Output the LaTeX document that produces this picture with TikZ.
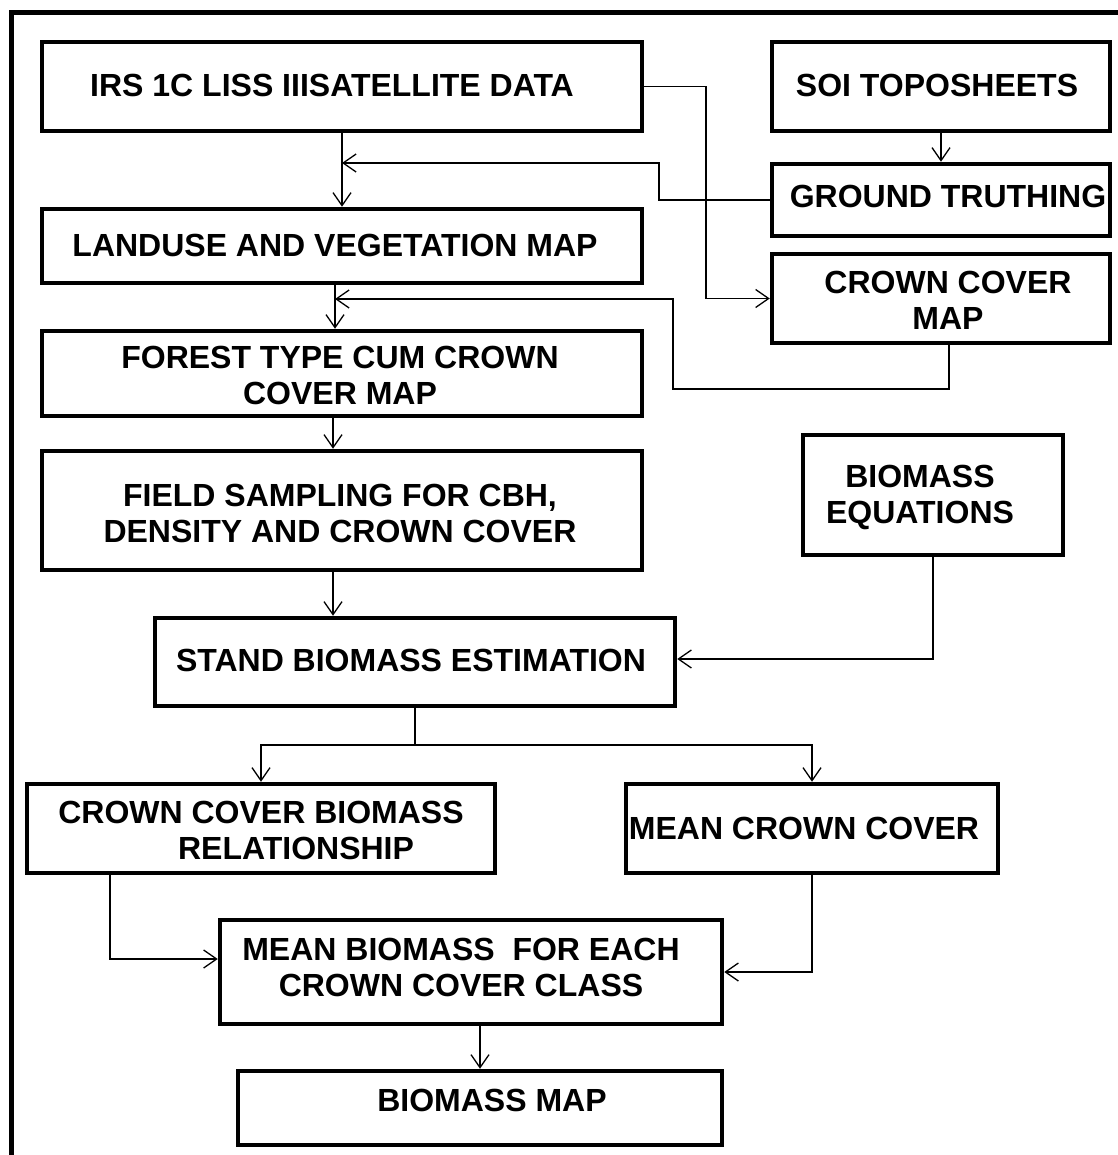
\documentclass[tikz,border=0pt]{standalone}
\usepackage{fontspec}
\setmainfont{Liberation Sans}
\usetikzlibrary{arrows.meta,fit}
\begin{document}
\begin{tikzpicture}[x=1pt,y=-1pt,
  box/.style={draw,line width=4.5pt,inner sep=0pt,rectangle},
  txt/.style={font=\bfseries\fontsize{32}{36}\selectfont,inner sep=0pt,align=center},
  conn/.style={line width=1.3pt,-{Straight Barb[length=13pt,width=18pt,line width=1.3pt]}},
  plain/.style={line width=1.3pt}]
\useasboundingbox (0,0) rectangle (1117,1155);
% outer frame
\draw[line width=5pt] (11,1165) -- (11,12.5) -- (1125,12.5);
% boxes
\node[box,fit={(42,42)(642,131)}] (irs) {};
\node[box,fit={(772,42)(1110,131)}] (soi) {};
\node[box,fit={(772,164)(1110,236)}] (gt) {};
\node[box,fit={(42,209)(642,283)}] (lu) {};
\node[box,fit={(772,254)(1110,343)}] (ccm) {};
\node[box,fit={(42,331)(642,416)}] (ft) {};
\node[box,fit={(42,451)(642,570)}] (fs) {};
\node[box,fit={(803,435)(1063,555)}] (be) {};
\node[box,fit={(155,618)(675,706)}] (sb) {};
\node[box,fit={(27,784)(495,873)}] (ccbr) {};
\node[box,fit={(626,784)(998,873)}] (mcc) {};
\node[box,fit={(220,920)(722,1024)}] (mb) {};
\node[box,fit={(238,1071)(722,1145)}] (bm) {};
% texts
\node[txt] (tirs) at (332,85) {IRS 1C LISS IIISATELLITE DATA};
\node[txt] (tsoi) at (937,85) {SOI TOPOSHEETS};
\node[txt] (tgt) at (948,196) {GROUND TRUTHING};
\node[txt] (tlu) at (335,245) {LANDUSE AND VEGETATION MAP};
\node[txt] (tccm) at (948,300) {CROWN COVER\\MAP};
\node[txt] (tft) at (340,375.5) {FOREST TYPE CUM CROWN\\COVER MAP};
\node[txt] (tfs) at (340,513) {FIELD SAMPLING FOR CBH,\\DENSITY AND CROWN COVER};
\node[txt] (tbe) at (920,497.5) {BIOMASS\\EQUATIONS};
\node[txt] (tsb) at (411,660) {STAND BIOMASS ESTIMATION};
\node[txt] (tccbr) at (278,830) {CROWN COVER BIOMASS\hspace*{34pt}\\\hspace*{36pt}RELATIONSHIP};
\node[txt] (tmcc) at (804,828) {MEAN CROWN COVER};
\node[txt] (tmb) at (461,967) {MEAN BIOMASS~ FOR EACH\\CROWN COVER CLASS};
\node[txt] (tbm) at (492,1100) {BIOMASS MAP};
% helper coordinates
\coordinate (j1) at (342,163);
\coordinate (j2) at (335,299);
\coordinate (xg) at (659,0);
\coordinate (xc) at (706,0);
\coordinate (xf) at (673,389);
\coordinate (xm) at (333,0);
\coordinate (s1) at (415,745);
\coordinate (xl) at (110,0);
% connectors
\draw[conn] (irs.south) -- (lu.north);
\draw[conn] (soi.south) -- (gt.north);
\draw[conn] (gt.west) -| (xg |- j1) -- (j1);
\draw[conn] (irs.east) -| (xc |- ccm.west) -- (ccm.west);
\draw[conn] ([xshift=8pt]ccm.south) |- (xf) |- (j2);
\draw[conn] (j2 |- lu.south) -- (j2 |- ft.north);
\draw[conn] (xm |- ft.south) -- (xm |- fs.north);
\draw[conn] (xm |- fs.south) -- (xm |- sb.north);
\draw[conn] (be.south) |- ([yshift=3pt]sb.east);
\draw[plain] (sb.south) -- (s1);
\draw[conn] (s1) -| (ccbr.north);
\draw[conn] (s1) -| (mcc.north);
\draw[conn] (xl |- ccbr.south) |- ([yshift=13pt]mb.west);
\draw[conn] (mcc.south) |- (mb.east);
\draw[conn] (bm.north |- mb.south) -- (bm.north);
\end{tikzpicture}
\end{document}
